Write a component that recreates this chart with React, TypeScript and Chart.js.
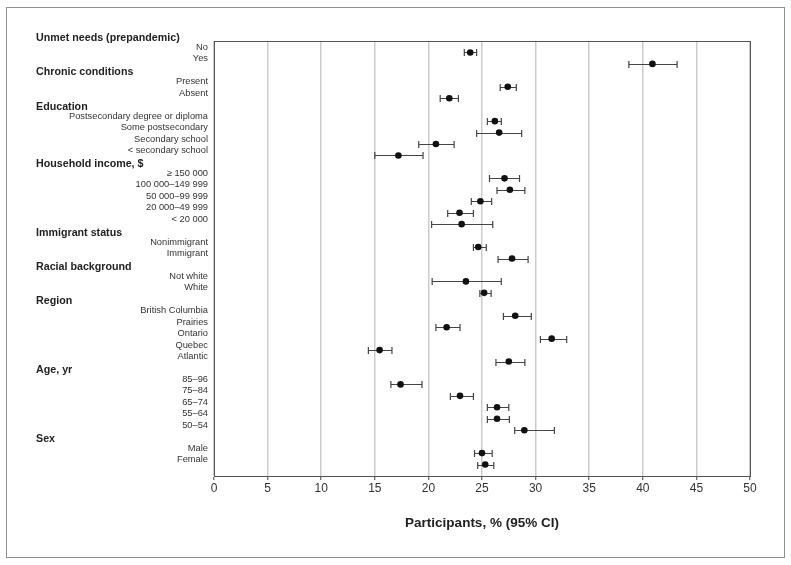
import React, { useEffect, useRef } from "react";
import { Chart, registerables } from "chart.js";

Chart.register(...registerables);

const groupHeaders: string[] = [
  "Unmet needs (prepandemic)",
  "Chronic conditions",
  "Education",
  "Household income, $",
  "Immigrant status",
  "Racial background",
  "Region",
  "Age, yr",
  "Sex",
];

const groupItems: string[][] = [
  ["No", "Yes"],
  ["Present", "Absent"],
  ["Postsecondary degree or diploma", "Some postsecondary", "Secondary school", "< secondary school"],
  ["≥ 150 000", "100 000–149 999", "50 000–99 999", "20 000–49 999", "< 20 000"],
  ["Nonimmigrant", "Immigrant"],
  ["Not white", "White"],
  ["British Columbia", "Prairies", "Ontario", "Quebec", "Atlantic"],
  ["85–96", "75–84", "65–74", "55–64", "50–54"],
  ["Male", "Female"],
];

const estimates: number[][] = [
  [23.9, 40.9],
  [27.4, 21.95],
  [26.2, 26.6, 20.7, 17.2],
  [27.1, 27.6, 24.85, 22.9, 23.1],
  [24.65, 27.8],
  [23.5, 25.2],
  [28.1, 21.7, 31.5, 15.45, 27.5],
  [17.4, 22.95, 26.4, 26.4, 28.95],
  [25.0, 25.3],
];

const lowerCI: number[][] = [
  [23.35, 38.7],
  [26.7, 21.1],
  [25.5, 24.5, 19.1, 15.0],
  [25.7, 26.4, 24.0, 21.8, 20.3],
  [24.2, 26.5],
  [20.35, 24.8],
  [27.0, 20.7, 30.45, 14.4, 26.3],
  [16.5, 22.05, 25.5, 25.5, 28.05],
  [24.3, 24.6],
];

const upperCI: number[][] = [
  [24.5, 43.2],
  [28.2, 22.8],
  [26.8, 28.7, 22.4, 19.5],
  [28.5, 29.0, 25.9, 24.2, 26.0],
  [25.4, 29.3],
  [26.8, 25.85],
  [29.6, 22.95, 32.9, 16.6, 29.0],
  [19.4, 24.2, 27.5, 27.55, 31.75],
  [25.95, 26.1],
];

const xTickValues: number[] = [0, 5, 10, 15, 20, 25, 30, 35, 40, 45, 50];
const xTitle = "Participants, % (95% CI)";

type Row = { label: string; header: boolean; est?: number; lo?: number; hi?: number };

const rows: Row[] = [];
groupHeaders.forEach((h, g) => {
  rows.push({ label: h, header: true });
  groupItems[g].forEach((it, i) => {
    rows.push({ label: it, header: false, est: estimates[g][i], lo: lowerCI[g][i], hi: upperCI[g][i] });
  });
});

const FONT = "'Liberation Sans', Arial, Helvetica, sans-serif";

export default function App() {
  const ref = useRef<HTMLCanvasElement | null>(null);

  useEffect(() => {
    if (!ref.current) return;

    const framePlugin = {
      id: "frame",
      beforeDraw(chart: any) {
        const c = chart.ctx;
        c.save();
        c.fillStyle = "#ffffff";
        c.fillRect(0, 0, chart.width, chart.height);
        c.restore();
      },
      afterDraw(chart: any) {
        const c = chart.ctx;
        const a = chart.chartArea;
        c.save();
        c.strokeStyle = "#8f8f8f";
        c.lineWidth = 1;
        c.strokeRect(6.5, 7.5, 778, 550);
        c.strokeStyle = "#555555";
        c.strokeRect(Math.round(a.left) + 0.5, Math.round(a.top) + 0.5, Math.round(a.right - a.left), Math.round(a.bottom - a.top));
        const ys = chart.scales.y;
        c.fillStyle = "#222222";
        c.font = `bold 10.7px ${FONT}`;
        c.textAlign = "left";
        c.textBaseline = "middle";
        rows.forEach((r, i) => {
          if (r.header) c.fillText(r.label, 36, ys.getPixelForValue(i) - 3);
        });
        c.restore();
      },
    };

    const errorBarPlugin = {
      id: "errorBars",
      beforeDatasetsDraw(chart: any) {
        const c = chart.ctx;
        const xs = chart.scales.x;
        const ys = chart.scales.y;
        c.save();
        c.strokeStyle = "#444444";
        c.lineWidth = 1.2;
        rows.forEach((r, i) => {
          if (r.header) return;
          const y = Math.round(ys.getPixelForValue(i)) + 0.5;
          const x1 = xs.getPixelForValue(r.lo as number);
          const x2 = xs.getPixelForValue(r.hi as number);
          c.beginPath();
          c.moveTo(x1, y);
          c.lineTo(x2, y);
          c.moveTo(x1, y - 3.5);
          c.lineTo(x1, y + 3.5);
          c.moveTo(x2, y - 3.5);
          c.lineTo(x2, y + 3.5);
          c.stroke();
        });
        c.restore();
      },
    };

    const points = rows
      .map((r, i) => (r.header ? null : { x: r.est as number, y: i }))
      .filter((p) => p !== null) as { x: number; y: number }[];

    const chart = new Chart(ref.current, {
      type: "scatter",
      data: {
        datasets: [
          {
            data: points,
            backgroundColor: "#111111",
            borderColor: "#111111",
            pointRadius: 3.3,
            pointHoverRadius: 3.3,
            borderWidth: 0,
          },
        ],
      },
      options: {
        responsive: false,
        animation: false,
        devicePixelRatio: 1,
        layout: { padding: { left: 0, right: 41, top: 41, bottom: 0 } },
        plugins: { legend: { display: false }, tooltip: { enabled: false } },
        scales: {
          x: {
            type: "linear",
            min: 0,
            max: 50,
            afterBuildTicks: (scale: any) => {
              scale.ticks = xTickValues.map((v) => ({ value: v }));
            },
            afterFit: (scale: any) => {
              scale.height = 89;
            },
            grid: {
              color: "#cccccc",
              lineWidth: 1.5,
              drawTicks: true,
              tickLength: 4,
              tickColor: "#444444",
              tickWidth: 1,
            },
            border: { display: true, color: "#555555", width: 1 },
            ticks: {
              padding: 1,
              color: "#333333",
              font: { family: FONT, size: 12 },
              maxRotation: 0,
              autoSkip: false,
            },
            title: {
              display: true,
              text: xTitle,
              color: "#222222",
              font: { family: FONT, size: 13.5, weight: "bold" },
              padding: { top: 0, bottom: 34 },
            },
          },
          y: {
            type: "linear",
            min: 0,
            max: 38,
            reverse: true,
            afterBuildTicks: (scale: any) => {
              scale.ticks = rows.map((_, i) => ({ value: i }));
            },
            afterFit: (scale: any) => {
              scale.width = 214;
            },
            grid: { display: false, drawTicks: false },
            border: { display: true, color: "#555555", width: 1 },
            ticks: {
              autoSkip: false,
              padding: 6,
              labelOffset: -5,
              color: "#333333",
              font: { family: FONT, size: 9.3 },
              callback: (value: any) => {
                const r = rows[Number(value)];
                return r && !r.header ? r.label : "";
              },
            },
          },
        },
      },
      plugins: [errorBarPlugin, framePlugin],
    } as any);

    return () => chart.destroy();
  }, []);

  return (
    <div style={{ position: "fixed", left: 0, top: 0, width: 791, height: 565, background: "#fff" }}>
      <canvas ref={ref} width={791} height={565} style={{ display: "block", width: 791, height: 565 }} />
    </div>
  );
}
